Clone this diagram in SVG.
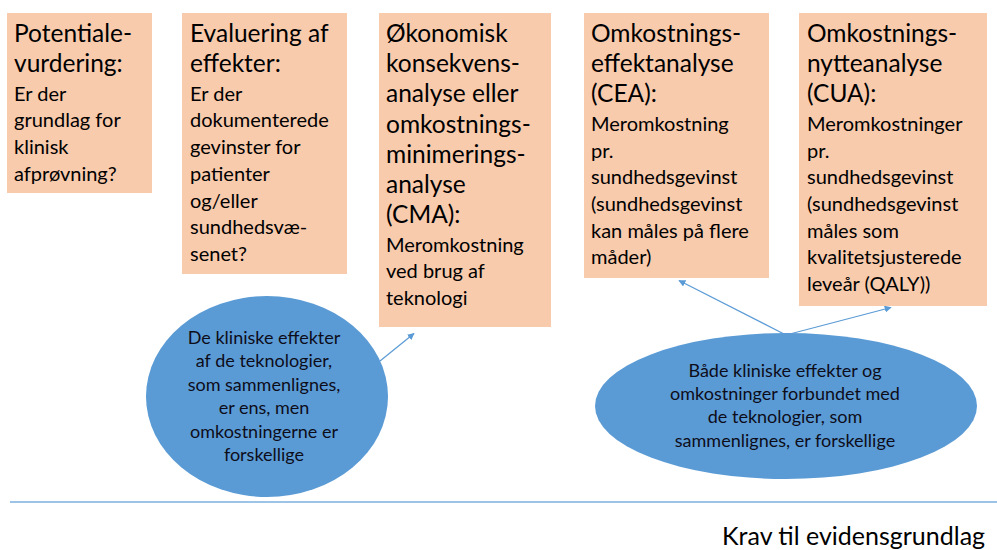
<svg xmlns="http://www.w3.org/2000/svg" width="997" height="550" viewBox="0 0 997 550">
<style>
.box{fill:#F8CBAD}
.ell{fill:#5B9BD5}
.t{font-family:Lato,"Liberation Sans",sans-serif;fill:#000}
.h{font-size:24.5px}
.b{font-size:20px}
.e{font-size:18px;text-anchor:middle;fill:#0d0d1a}
.con{stroke:#5B9BD5;stroke-width:1.2;fill:none}
</style>
<defs>
<marker id="ah" viewBox="0 0 10 10" refX="9" refY="5" markerWidth="7" markerHeight="7" orient="auto" markerUnits="userSpaceOnUse">
<path d="M0,0 L10,5 L0,10 z" fill="#5B9BD5"/>
</marker>
</defs>
<rect width="997" height="550" fill="#fff"/>
<g id="n1">
<rect class="box" x="7" y="13" width="145" height="180"/>
<text class="t h" x="14"><tspan x="14" y="42">Potentiale-</tspan><tspan x="14" y="72.2">vurdering:</tspan></text>
<text class="t b"><tspan x="14" y="100.7">Er der</tspan><tspan x="14" y="127.4">grundlag for</tspan><tspan x="14" y="154.1">klinisk</tspan><tspan x="14" y="180.8">afprøvning?</tspan></text>
</g>
<g id="n2">
<rect class="box" x="182" y="13" width="165" height="261"/>
<text class="t h"><tspan x="190" y="42">Evaluering af</tspan><tspan x="190" y="72.2">effekter:</tspan></text>
<text class="t b"><tspan x="190" y="100.7">Er der</tspan><tspan x="190" y="127.4">dokumenterede</tspan><tspan x="190" y="154.1">gevinster for</tspan><tspan x="190" y="180.8">patienter</tspan><tspan x="190" y="207.5">og/eller</tspan><tspan x="190" y="234.2">sundhedsvæ-</tspan><tspan x="190" y="260.9">senet?</tspan></text>
</g>
<g id="n3">
<rect class="box" x="379" y="13" width="172" height="314"/>
<text class="t h"><tspan x="386" y="42">Økonomisk</tspan><tspan x="386" y="72.2">konsekvens-</tspan><tspan x="386" y="102.4">analyse eller</tspan><tspan x="386" y="132.6">omkostnings-</tspan><tspan x="386" y="162.8">minimerings-</tspan><tspan x="386" y="193">analyse</tspan><tspan x="386" y="223.2">(CMA):</tspan></text>
<text class="t b"><tspan x="386" y="251.7">Meromkostning</tspan><tspan x="386" y="278.4">ved brug af</tspan><tspan x="386" y="305.1">teknologi</tspan></text>
</g>
<g id="n4">
<rect class="box" x="584" y="13" width="185" height="265"/>
<text class="t h"><tspan x="591" y="42">Omkostnings-</tspan><tspan x="591" y="72.2">effektanalyse</tspan><tspan x="591" y="102.4">(CEA):</tspan></text>
<text class="t b"><tspan x="591" y="130.9">Meromkostning</tspan><tspan x="591" y="157.6">pr.</tspan><tspan x="591" y="184.3">sundhedsgevinst</tspan><tspan x="591" y="211">(sundhedsgevinst</tspan><tspan x="591" y="237.7">kan måles på flere</tspan><tspan x="591" y="264.4">måder)</tspan></text>
</g>
<g id="n5">
<rect class="box" x="799" y="13" width="188" height="293"/>
<text class="t h"><tspan x="807" y="42">Omkostnings-</tspan><tspan x="807" y="72.2">nytteanalyse</tspan><tspan x="807" y="102.4">(CUA):</tspan></text>
<text class="t b"><tspan x="807" y="130.9">Meromkostninger</tspan><tspan x="807" y="157.6">pr.</tspan><tspan x="807" y="184.3">sundhedsgevinst</tspan><tspan x="807" y="211">(sundhedsgevinst</tspan><tspan x="807" y="237.7">måles som</tspan><tspan x="807" y="264.4">kvalitetsjusterede</tspan><tspan x="807" y="291.1">leveår (QALY))</tspan></text>
</g>
<g id="e1">
<ellipse class="ell" cx="267" cy="396.5" rx="121" ry="100.5"/>
<text class="t e"><tspan x="264" y="344">De kliniske effekter</tspan><tspan x="264" y="367.4">af de teknologier,</tspan><tspan x="264" y="390.8">som sammenlignes,</tspan><tspan x="264" y="414.2">er ens, men</tspan><tspan x="264" y="437.6">omkostningerne er</tspan><tspan x="264" y="461">forskellige</tspan></text>
</g>
<g id="e2">
<ellipse class="ell" cx="786" cy="406" rx="191" ry="73"/>
<text class="t e"><tspan x="785" y="376.5">Både kliniske effekter og</tspan><tspan x="785" y="399.9">omkostninger forbundet med</tspan><tspan x="785" y="423.3">de teknologier, som</tspan><tspan x="785" y="446.7">sammenlignes, er forskellige</tspan></text>
</g>
<g id="connectors">
<line class="con" x1="380" y1="361" x2="414" y2="333.5" marker-end="url(#ah)"/>
<line class="con" x1="786" y1="335" x2="679" y2="280.5" marker-end="url(#ah)"/>
<line class="con" x1="786" y1="335" x2="891" y2="307.5" marker-end="url(#ah)"/>
</g>
<g id="axis">
<line x1="10" y1="502" x2="997" y2="502" stroke="#9DC3E6" stroke-width="2"/>
<text class="t" x="722" y="545" font-size="25px">Krav til evidensgrundlag</text>
</g>
</svg>
